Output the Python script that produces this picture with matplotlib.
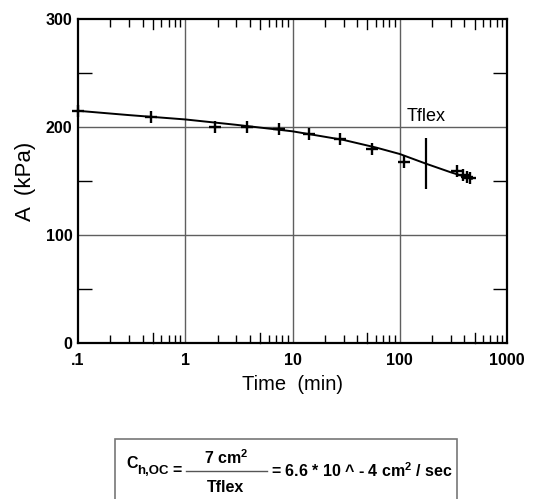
import numpy as np
import matplotlib
matplotlib.use("Agg")
import matplotlib.pyplot as plt
from matplotlib.patches import Rectangle

plt.rcParams['font.family'] = ['Liberation Sans', 'DejaVu Sans']
plt.rcParams['mathtext.fontset'] = 'custom'
plt.rcParams['mathtext.rm'] = 'Liberation Sans:bold'
plt.rcParams['mathtext.default'] = 'rm'

# measured points
tiempo = [0.1, 0.48, 1.9, 3.75, 7.5, 14.4, 27.7, 55.5, 110, 340, 390, 420, 450]
presion = [215, 209.5, 199.7, 200, 197.8, 193.2, 189.2, 179.9, 167.9, 159, 155.5, 154, 153]

# fitted curve
curva_t = [0.1, 0.3, 1, 3, 10, 30, 60, 100, 176, 300, 470]
curva_a = [215, 211, 207, 202, 196, 188, 181, 175, 166, 158, 152]

# Tflex marker
tflex = 176
tflex_min, tflex_max = 143, 190

xmajor = [0.1, 1, 10, 100, 1000]
xlabels = ['.1', '1', '10', '100', '1000']
ymajor = [0, 100, 200, 300]
yminor = [50, 150, 250]

W, H = 555, 499
fig = plt.figure(figsize=(W / 100, H / 100), dpi=100)
ax = fig.add_axes([78 / W, 1 - 343 / H, (507 - 78) / W, (343 - 19) / H])

ax.set_xscale('log')
ax.set_xlim(0.1, 1000)
ax.set_ylim(0, 300)

# grid
for g in [1, 10, 100]:
    ax.axvline(g, color='#5f5f5f', lw=1, zorder=1)
for g in [100, 200]:
    ax.axhline(g, color='#5f5f5f', lw=1, zorder=1)

ax.plot(curva_t, curva_a, color='black', lw=1.4, zorder=3)
ax.plot(tiempo, presion, ls='none', marker='+', ms=9, mew=1.7, color='black', zorder=4, clip_on=False)
ax.vlines(tflex, tflex_min, tflex_max, color='black', lw=1.6, zorder=4)
ax.text(116, 209.5, 'Tflex', fontsize=13, va='center', ha='left')

# ticks
ax.set_xticks(xmajor)
ax.set_xticklabels(xlabels, fontweight='bold', fontsize=11.5)
menores = []
cincos = []
for d in [0.1, 1, 10, 100]:
    for k in range(2, 10):
        if k == 5:
            cincos.append(d * k)
        else:
            menores.append(d * k)
ax.set_xticks(menores, minor=True)
ax.set_xticklabels([], minor=True)
ax.tick_params(axis='x', which='major', length=0, pad=7)
ax.tick_params(axis='x', which='minor', direction='in', length=6, width=1,
               top=True, bottom=True)
for c in cincos:
    ax.plot([c, c], [0, 0.03], transform=ax.get_xaxis_transform(), color='black', lw=1, clip_on=False)
    ax.plot([c, c], [0.97, 1], transform=ax.get_xaxis_transform(), color='black', lw=1, clip_on=False)

ax.set_yticks(ymajor)
ax.set_yticklabels([str(v) for v in ymajor], fontweight='bold', fontsize=11.5)
ax.set_yticks(yminor, minor=True)
ax.tick_params(axis='y', which='major', length=0, pad=4)
ax.tick_params(axis='y', which='minor', direction='in', length=10, width=1,
               left=True, right=True)

for s in ax.spines.values():
    s.set_linewidth(1.6)

def px(x, y):
    return x / W, 1 - y / H

fig.text(*px(292, 385), 'Time  (min)', fontsize=14.5, ha='center', va='center')
fig.text(*px(25, 181), 'A  (kPa)', fontsize=16, ha='center', va='center', rotation=90)

# formula box
x0, y0 = px(115, 439)
x1, y1 = px(457, 510)
fig.patches.append(Rectangle((x0, y1), x1 - x0, y0 - y1, transform=fig.transFigure,
                             fill=False, edgecolor='#777777', lw=1.2))
fig.text(*px(126, 464), 'C', fontsize=11.5, fontweight='bold', ha='left', va='center')
fig.text(*px(137, 471), 'h,OC', fontsize=9.5, fontweight='bold', ha='left', va='center')
fig.text(*px(172, 471), '=', fontsize=11.5, fontweight='bold', ha='left', va='center')
fx0, fy = px(186, 471)
fx1, _ = px(267, 471)
fig.add_artist(plt.Line2D([fx0, fx1], [fy, fy], transform=fig.transFigure, color='#555555', lw=1))
fig.text(*px(226, 458), r'7 cm$^{2}$', fontsize=11.5, fontweight='bold', ha='center', va='center')
fig.text(*px(225.5, 487), 'Tflex', fontsize=11.5, fontweight='bold', ha='center', va='center')
fig.text(*px(271, 471), r'= 6.6 * 10 ^ - 4 cm$^{2}$ / sec', fontsize=11.5, fontweight='bold',
         ha='left', va='center')

fig.savefig('out.png', dpi=100)
